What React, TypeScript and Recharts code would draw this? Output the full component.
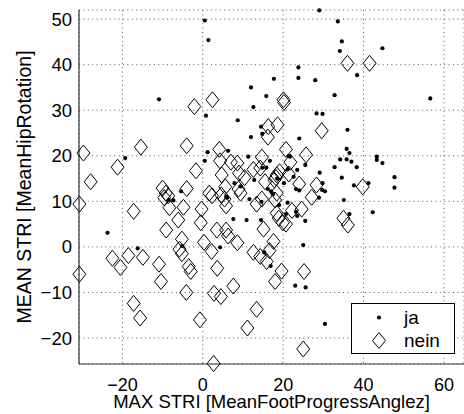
import React from 'react';
import { ScatterChart, Scatter, XAxis, YAxis, CartesianGrid, Legend } from 'recharts';

const seriesNames = ['ja', 'nein'];
const xTicks = [-20, 0, 20, 40, 60];
const yTicks = [-20, -10, 0, 10, 20, 30, 40, 50];
const xTitle = 'MAX STRI [MeanFootProgressAnglez]';
const yTitle = 'MEAN STRI [MeanHipRotation]';

const jaX = [29.0, 0.5, 1.4, 33.6, 34.6, 34.1, 44.7, 38.4, 23.8, 23.8, 17.7, 28.0, -10.9, 12.0, 15.8, 12.6, 32.8, 56.6, 0.8, 28.3, 29.8, 8.7, 14.5, 36.0, 14.8, 12.0, 24.0, -19.3, 1.2, 0.5, 6.3, 11.3, 16.7, 14.8, 15.8, 21.7, 25.5, 23.5, 21.1, 35.8, 36.5, 35.8, 34.2, 37.0, 38.3, 32.8, 43.3, 43.3, 44.7, 47.7, 47.7, 41.2, 42.3, 35.1, 36.5, 34.6, 37.6, 29.1, 29.8, 29.7, 30.4, 28.9, 25.0, 23.0, 25.6, 30.4, -23.7, -16.2, -5.4, -8.5, -7.3, -5.1, 4.3, 7.6, 10.9, 14.5, 11.6, 14.6, 16.2, 17.0, 17.5, 21.1, 20.7, 23.2, 23.5, 25.5, 15.3, 16.9, 7.9, 9.4, 23.2, 24.0, 20.2, 22.6, 12.8, 6.1, 18.5, 19.0, 21.4, 5.8];
const jaY = [51.9, 49.7, 45.4, 49.5, 45.1, 43.0, 43.6, 37.7, 39.4, 37.1, 36.9, 36.6, 32.4, 35.0, 33.1, 30.7, 33.3, 32.6, 28.8, 29.3, 29.2, 27.8, 26.4, 25.7, 24.8, 24.1, 23.8, 19.5, 20.8, 18.9, 21.1, 19.8, 18.9, 17.4, 17.4, 19.8, 18.0, 16.9, 17.0, 21.5, 20.6, 19.2, 19.2, 18.7, 17.5, 17.5, 19.8, 19.1, 18.4, 15.3, 13.0, 14.0, 7.6, 10.3, 7.2, 15.2, 13.5, 16.3, 14.0, 12.5, 12.2, 10.8, 0.4, -8.5, -8.9, -16.9, 3.1, -0.3, 12.2, 10.3, 10.2, 0.2, -0.1, 6.1, 5.9, 5.9, 10.5, 9.9, 12.7, 12.2, 11.6, 9.7, 7.2, 7.7, 6.8, 5.7, -1.2, -4.2, 14.0, 13.3, 12.7, 12.4, 14.0, 15.4, 14.7, 10.8, 15.0, 9.2, 20.0, 11.0];

const neinX = [-29.7, -27.9, -30.7, -30.7, -21.2, -15.4, -17.2, -22.5, -20.5, -18.5, -14.9, -17.2, -15.6, -10.9, -10.4, -10.0, -9.2, -8.6, -9.6, -8.3, -9.1, -4.0, -2.1, 2.4, -1.7, -4.0, -4.8, -6.1, -5.2, -5.8, -5.2, -3.5, -3.0, -4.1, -0.7, -0.3, -0.5, 0.3, 1.6, 2.2, 3.5, 3.6, 2.8, 4.5, 2.7, 4.1, 4.3, 4.7, 5.6, 5.4, 4.6, 5.8, 5.8, 6.3, 7.0, 8.6, 9.0, 8.9, 9.4, 10.4, 8.6, 7.6, 11.1, 13.4, 12.6, 14.3, 14.3, 14.7, 12.6, 15.5, 13.4, 14.7, 15.1, 15.9, 16.6, 17.6, 18.4, 18.0, 18.4, 18.4, 19.1, 17.8, 16.3, 16.2, 18.6, 20.1, 20.2, 20.7, 21.8, 21.4, 22.2, 19.9, 20.7, 18.9, 19.6, 18.0, 24.0, 24.6, 25.7, 25.0, 25.2, 27.1, 28.3, 29.6, 36.0, 41.5, 39.8, 35.0, 36.1, 18.2, 2.3];
const neinY = [20.6, 14.3, 9.4, -6.0, 17.5, 21.9, 7.8, -2.5, -4.5, -1.9, -2.3, -12.4, -15.6, -3.8, -7.6, 12.9, 11.8, 11.2, 10.8, 8.6, 3.7, 22.2, 30.8, 32.3, 16.7, 12.8, 8.7, 5.9, 1.7, -0.5, -1.5, -4.3, -5.4, -10.0, -16.0, 8.3, 5.3, 1.0, 11.8, -1.0, 3.7, -4.7, -10.2, -10.9, -25.6, 21.4, 18.9, 15.8, 13.2, 10.5, 11.4, 9.0, 3.7, 2.4, 18.6, 18.4, 16.2, 12.7, 11.8, 15.2, 0.9, -8.6, -17.8, -13.7, -1.2, -2.1, 17.3, 19.7, 17.0, 14.3, 9.4, 10.5, 3.9, -3.2, -0.8, 1.2, 7.4, 10.3, 11.8, 15.8, 16.5, 14.7, 26.4, 24.1, 26.8, 32.3, 31.7, 21.4, 18.6, 16.0, 8.0, 5.3, 5.0, 6.3, -5.3, -7.6, 13.8, 8.3, 20.2, -22.4, -5.4, 10.9, 13.6, 25.5, 40.3, 40.3, 13.2, 6.3, 4.8, 15.2, 11.2];

const jaData = jaX.map((x, i) => ({ x, y: jaY[i] }));
const neinData = neinX.map((x, i) => ({ x, y: neinY[i] }));

const FONT = '"Liberation Sans", Arial, Helvetica, sans-serif';

const fmt = (v: number) => (v < 0 ? `\u2212${Math.abs(v)}` : `${v}`);

const Dot = (props: any) => {
  const { cx, cy } = props;
  if (cx == null || cy == null) return null;
  return <circle cx={cx} cy={cy} r={2.1} fill="#000" />;
};

const Diamond = (props: any) => {
  const { cx, cy } = props;
  if (cx == null || cy == null) return null;
  return (
    <polygon
      points={`${cx},${cy - 8} ${cx + 6.5},${cy} ${cx},${cy + 8} ${cx - 6.5},${cy}`}
      fill="none"
      stroke="#000"
      strokeWidth={1}
    />
  );
};

const XTitle = (props: any) => {
  const vb = props.viewBox || { x: 79, y: 364, width: 385, height: 50 };
  return (
    <text x={vb.x + vb.width / 2} y={vb.y + 44} textAnchor="middle" fontSize={18.5} fontFamily={FONT} fill="#000">
      {xTitle}
    </text>
  );
};

const YTitle = (props: any) => {
  const vb = props.viewBox || { x: 0, y: 10, width: 79, height: 354 };
  const x = vb.x + 31;
  const y = vb.y + vb.height / 2;
  return (
    <text x={x} y={y} transform={`rotate(-90, ${x}, ${y})`} textAnchor="middle" fontSize={19.5} fontFamily={FONT} fill="#000">
      {yTitle}
    </text>
  );
};

const LegendBox = (props: any) => {
  const payload = props.payload || [];
  return (
    <svg width={104} height={51} style={{ display: 'block' }}>
      <rect x={0.5} y={0.5} width={103} height={50} fill="#fff" stroke="#000" strokeWidth={1} />
      {payload.map((p: any, i: number) => {
        const cy = 14.5 + i * 23;
        const isDot = p.value === seriesNames[0];
        return (
          <g key={p.value}>
            {isDot ? (
              <circle cx={28} cy={cy} r={2.1} fill="#000" />
            ) : (
              <polygon points={`28,${cy - 8} ${34.5},${cy} 28,${cy + 8} ${21.5},${cy}`} fill="none" stroke="#000" />
            )}
            <text x={53} y={cy + 6.5} fontSize={19} fontFamily={FONT} fill="#000">
              {p.value}
            </text>
          </g>
        );
      })}
    </svg>
  );
};

export default function App() {
  return (
    <div style={{ position: 'absolute', left: 0, top: 0, width: 464, height: 414, background: '#fff' }}>
      <ScatterChart width={464} height={414} margin={{ top: 10, right: 0, bottom: 0, left: 0 }}>
        <CartesianGrid stroke="#555" strokeDasharray="1 3.4" strokeWidth={1} />
        <XAxis
          type="number"
          dataKey="x"
          domain={[-30.8, 65]}
          ticks={xTicks}
          tickFormatter={fmt}
          height={50}
          tickLine={false}
          tickSize={0}
          tickMargin={14}
          axisLine={{ stroke: '#333', strokeWidth: 1.2 }}
          tick={{ fill: '#000', fontSize: 18, fontFamily: FONT }}
          label={<XTitle />}
        />
        <YAxis
          type="number"
          dataKey="y"
          domain={[-25.7, 52]}
          ticks={yTicks}
          tickFormatter={fmt}
          width={79}
          tickLine={false}
          tickSize={0}
          tickMargin={7}
          axisLine={{ stroke: '#333', strokeWidth: 1.2 }}
          tick={{ fill: '#000', fontSize: 18.5, fontFamily: FONT }}
          label={<YTitle />}
        />
        <Legend
          layout="horizontal"
          align="center"
          verticalAlign="middle"
          content={<LegendBox />}
          wrapperStyle={{ left: 351, top: 303, width: 104, height: 51 }}
        />
        <Scatter name={seriesNames[0]} data={jaData} shape={<Dot />} isAnimationActive={false} legendType="circle" />
        <Scatter name={seriesNames[1]} data={neinData} shape={<Diamond />} isAnimationActive={false} legendType="diamond" />
      </ScatterChart>
    </div>
  );
}
